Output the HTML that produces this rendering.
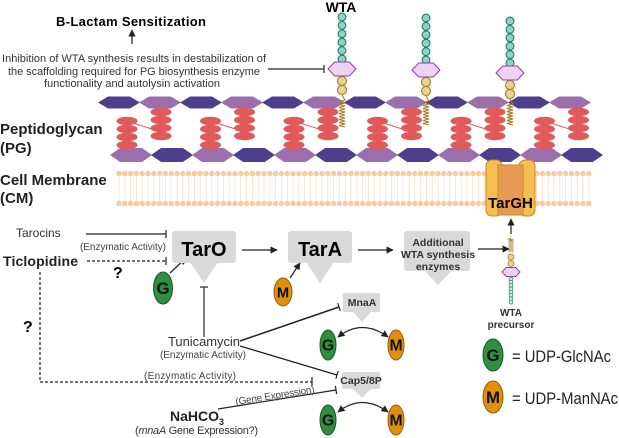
<!DOCTYPE html>
<html><head><meta charset="utf-8"><style>
html,body{margin:0;padding:0;background:#fff;}
svg{display:block;font-family:"Liberation Sans",sans-serif;}
</style></head><body>
<svg id="s" width="619" height="438" viewBox="0 0 619 438" xmlns="http://www.w3.org/2000/svg">
<defs>
<marker id="ar" viewBox="0 0 10 10" refX="9" refY="5" markerWidth="6" markerHeight="6" orient="auto-start-reverse"><path d="M0,0 L10,5 L0,10 z" fill="#222"/></marker>
</defs>
<g id="pg"></g>
<g id="mem"></g>
<g id="wta"></g>

<rect x="486" y="160" width="16" height="56" rx="6" fill="#f6bd52" stroke="#c98a20" stroke-width="1"/>
<rect x="519" y="160" width="16" height="56" rx="6" fill="#f6bd52" stroke="#c98a20" stroke-width="1"/>
<rect x="498" y="165" width="25" height="50" fill="#e99a52" stroke="#c98a20" stroke-width="1"/>
<text x="510.5" y="208" font-size="15" font-weight="bold" text-anchor="middle">TarGH</text>

<text x="56" y="26" font-size="13" font-weight="bold" textLength="150">B-Lactam Sensitization</text>
<line x1="132" y1="44" x2="132" y2="30" stroke="#222" stroke-width="1.2" marker-end="url(#ar)"/>
<g font-size="11" fill="#333" text-anchor="middle">
<text x="134" y="62" textLength="264">Inhibition of WTA synthesis results in destabilization of</text>
<text x="134" y="75" textLength="252">the scaffolding required for PG biosynthesis enzyme</text>
<text x="132" y="87" textLength="176">functionality and autolysin activation</text>
</g>
<line x1="268" y1="69" x2="324" y2="69" stroke="#222" stroke-width="1.2"/>
<line x1="324" y1="65" x2="324" y2="73" stroke="#222" stroke-width="1.2"/>
<text x="341" y="12" font-size="14" font-weight="bold" text-anchor="middle">WTA</text>

<g font-size="15" font-weight="bold" fill="#222">
<text x="0" y="134">Peptidoglycan</text>
<text x="0" y="153">(PG)</text>
<text x="0" y="185">Cell Membrane</text>
<text x="0" y="203">(CM)</text>
</g>

<g stroke="#222" stroke-width="1.2" fill="none">
<line x1="86" y1="234" x2="166" y2="234"/><line x1="166" y1="230" x2="166" y2="238"/>
<line x1="87" y1="261" x2="166" y2="261" stroke-dasharray="3,2"/><line x1="166" y1="257" x2="166" y2="265"/>
<line x1="242" y1="250" x2="277" y2="250" marker-end="url(#ar)"/>
<line x1="358" y1="250" x2="393" y2="250" marker-end="url(#ar)"/>
<line x1="478" y1="249" x2="509" y2="249" marker-end="url(#ar)"/>
<line x1="511" y1="234" x2="511" y2="219" marker-end="url(#ar)"/>
<line x1="170" y1="273" x2="186" y2="258" marker-end="url(#ar)"/>
<line x1="290" y1="278" x2="300" y2="263" marker-end="url(#ar)"/>
<line x1="204" y1="337" x2="204" y2="287"/><line x1="200" y1="287" x2="208" y2="287"/>
<line x1="240" y1="341" x2="339" y2="307" stroke-width="1.5"/><line x1="337.7" y1="303.2" x2="340.3" y2="310.8"/>
<line x1="240" y1="346" x2="337" y2="375" stroke-width="1.3"/><line x1="338.1" y1="371.2" x2="335.9" y2="378.8"/>
<polyline points="40,272 40,382 312,382" stroke-dasharray="3,2"/><line x1="312" y1="377" x2="312" y2="386"/>
<line x1="218" y1="409" x2="336" y2="390"/><line x1="335.4" y1="386" x2="336.6" y2="394"/>
<path d="M338,337 Q362,318 388,337" marker-start="url(#ar)" marker-end="url(#ar)"/>
<path d="M338,412 Q362,393 388,412" marker-start="url(#ar)" marker-end="url(#ar)"/>
</g>

<text x="16" y="237" font-size="12" fill="#333">Tarocins</text>
<text x="80" y="250" font-size="10" fill="#444" textLength="86">(Enzymatic Activity)</text>
<text x="3" y="266" font-size="14" font-weight="bold" fill="#222" textLength="75">Ticlopidine</text>
<text x="113" y="278" font-size="16" font-weight="bold">?</text>
<text x="23" y="332" font-size="16" font-weight="bold">?</text>

<g fill="#d9d9d9">
<rect x="172" y="231" width="64" height="32" rx="3"/><polygon points="190,262 218,262 204,283"/>
<rect x="288" y="231" width="64" height="32" rx="3"/><polygon points="306,262 334,262 320,283"/>
<rect x="404" y="231" width="66" height="40" rx="3"/><polygon points="424,270 452,270 438,285"/>
<rect x="343" y="293" width="37" height="19" rx="2"/><polygon points="352,311 372,311 362,322"/>
<rect x="342" y="372" width="38" height="17" rx="2"/><polygon points="352,388 372,388 362,398"/>
</g>
<text x="204" y="256" font-size="20" font-weight="bold" text-anchor="middle">TarO</text>
<text x="320" y="256" font-size="20" font-weight="bold" text-anchor="middle">TarA</text>
<g font-size="10.5" font-weight="bold" fill="#333" text-anchor="middle">
<text x="438" y="246">Additional</text><text x="438" y="258">WTA synthesis</text><text x="438" y="270">enzymes</text>
<text x="362" y="306">MnaA</text><text x="361" y="384">Cap5/8P</text>
</g>

<text x="204" y="346" font-size="13" fill="#333" text-anchor="middle" textLength="72">Tunicamycin</text>
<text x="203" y="358" font-size="10" fill="#444" text-anchor="middle" textLength="86">(Enzymatic Activity)</text>
<text x="190" y="379" font-size="10" fill="#444" text-anchor="middle" textLength="92">(Enzymatic Activity)</text>
<text x="0" y="0" font-size="10" fill="#444" transform="translate(236,405) rotate(-9)" textLength="80">(Gene Expression)</text>
<text x="170" y="421" font-size="14" font-weight="bold" fill="#222">NaHCO<tspan font-size="9" dy="4">3</tspan></text>
<text x="135" y="434" font-size="11" fill="#333" textLength="123">(<tspan font-style="italic">mnaA</tspan> Gene Expression?)</text>

<text x="511" y="316" font-size="10" font-weight="bold" fill="#333" text-anchor="middle">WTA</text>
<text x="511" y="328" font-size="10" font-weight="bold" fill="#333" text-anchor="middle">precursor</text>

<g id="ovals"></g>
<text x="512" y="362" font-size="17" fill="#222" textLength="99" lengthAdjust="spacingAndGlyphs">= UDP-GlcNAc</text>
<text x="512" y="404" font-size="17" fill="#222" textLength="106" lengthAdjust="spacingAndGlyphs">= UDP-ManNAc</text>
</svg>
<script>
const NS="http://www.w3.org/2000/svg";
function el(p,t,a){const e=document.createElementNS(NS,t);for(const k in a)e.setAttribute(k,a[k]);document.getElementById(p).appendChild(e);return e;}
function hex(p,x,cy,w,h,fill,stroke){const t=h/2,d=w*0.24;el(p,'polygon',{points:`${x},${cy} ${x+d},${cy-t} ${x+w-d},${cy-t} ${x+w},${cy} ${x+w-d},${cy+t} ${x+d},${cy+t}`,fill:fill,stroke:stroke||'none'});}
const D='#4e3f8c',L='#9c6eab';
for(let i=0;i<12;i++)hex('pg',98+i*41,102.5,42,12,i%2?L:D);
for(let i=0;i<12;i++)hex('pg',110+i*41,155,42,14,i%2?D:L);
for(let k=0;k<6;k++){const bx=127+k*83.5;
 for(let j=0;j<4;j++)el('pg','ellipse',{cx:bx,cy:121+j*8,rx:10.5,ry:4.2,fill:'#e15a59'});
 for(let j=0;j<4;j++)el('pg','ellipse',{cx:bx+34,cy:112+j*8,rx:10.5,ry:4.2,fill:'#e15a59'});
 el('pg','line',{x1:bx+6,y1:123,x2:bx+28,y2:130,stroke:'#e15a59','stroke-width':1});}
for(let x=119;x<=593;x+=5.8){
 el('mem','line',{x1:x,y1:176,x2:x,y2:201,stroke:'#f6dcc8','stroke-width':0.7});
 el('mem','circle',{cx:x,cy:173.5,r:2.7,fill:'#f9c9a0'});
 el('mem','circle',{cx:x,cy:203.5,r:2.7,fill:'#f9c9a0'});}
function chain(cx,off){
 for(let j=0;j<6;j++)el('wta','circle',{cx:cx,cy:17+off+j*8.4,r:3.9,fill:'#8fd3c4',stroke:'#1e7d6c','stroke-width':1.1});
 hex('wta',cx-14,69+off,28,14,'#efd1f5','#8d3fa0');
 for(let j=0;j<2;j++)el('wta','circle',{cx:cx,cy:81+off+j*9,r:4.5,fill:'#ead28f',stroke:'#a37c25','stroke-width':1.1});
 let d=`M${cx},${95+off} L${cx+3},${100+off}`;for(let y=100+off;y<125;y+=3)d+=` L${cx-3},${y+1.5} L${cx+3},${y+3}`;
 el('wta','path',{d:d,fill:'none',stroke:'#a37c25','stroke-width':1.1});}
chain(342,0);chain(426,1);chain(510,4);
{let cx=511,d=`M${cx},238`;for(let y=238;y<251;y+=2)d+=` L${cx-2.5},${y+1} L${cx+2.5},${y+2}`;
 el('wta','path',{d:d,fill:'none',stroke:'#a37c25','stroke-width':0.9});
 el('wta','circle',{cx:cx,cy:257,r:3,fill:'#ead28f',stroke:'#a37c25','stroke-width':0.8});
 el('wta','circle',{cx:cx,cy:263.5,r:3,fill:'#ead28f',stroke:'#a37c25','stroke-width':0.8});
 hex('wta',cx-9,272,18,9,'#efd1f5','#8d3fa0');
 for(let j=0;j<8;j++)el('wta','circle',{cx:cx,cy:279+j*3.3,r:1.9,fill:'#cdeee6',stroke:'#1e7d6c','stroke-width':0.7});}
function ov(cx,cy,rx,ry,g){el('ovals','ellipse',{cx:cx,cy:cy,rx:rx,ry:ry,fill:g?'#2f8f3f':'#e0900f',stroke:g?'#1b5a25':'#9a5c05','stroke-width':1});
 const t=el('ovals','text',{x:cx,y:cy+ry*0.38,'font-size':ry*1.05,'font-weight':'bold','text-anchor':'middle',fill:'#111'});t.textContent=g?'G':'M';}
ov(163,288,9.5,16,1);ov(283,292,9,14,0);
ov(328,345,8,15,1);ov(396,345,8,15,0);
ov(328,420,8,15,1);ov(396,420,8,15,0);
ov(493,355,10,16,1);ov(493,397,10,16,0);
</script>
</body></html>
